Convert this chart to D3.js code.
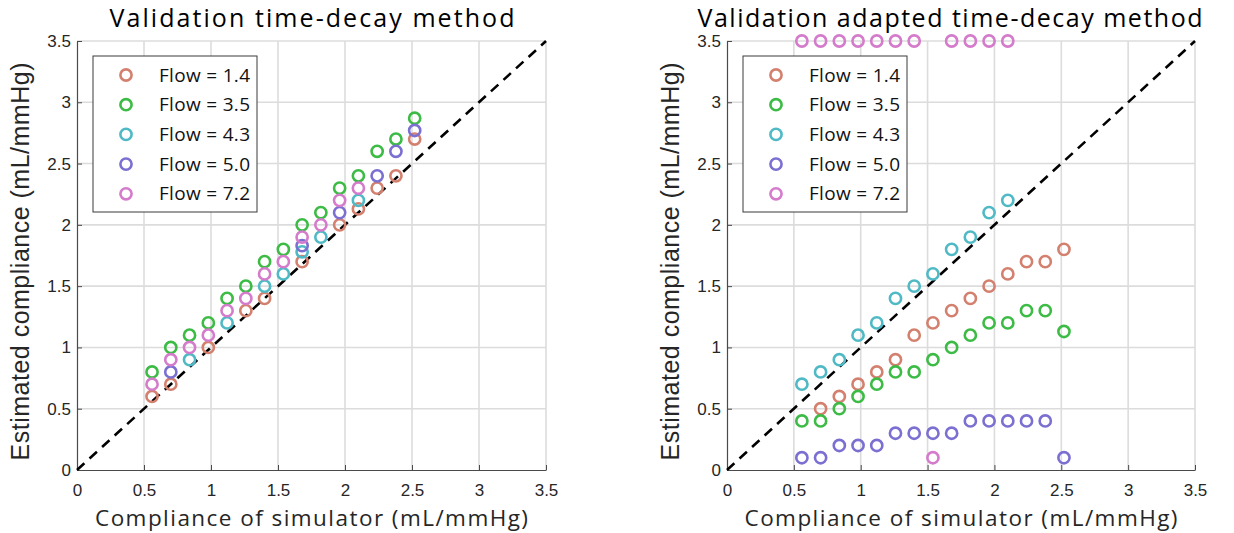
<!DOCTYPE html>
<html>
<head>
<meta charset="utf-8">
<script src="https://cdn.jsdelivr.net/npm/d3@7"></script>
<style>
  html, body { margin: 0; padding: 0; background: #fff; }
  svg { display: block; }
</style>
</head>
<body>
<svg id="chart" width="1234" height="533"></svg>
<script>
// ---------- data ----------
const seriesNames = ["Flow = 1.4", "Flow = 3.5", "Flow = 4.3", "Flow = 5.0", "Flow = 7.2"];
const seriesColors = ["#d4806f", "#3cbb45", "#4fbac5", "#7b70d2", "#d47bcb"];
const tickValues = [0, 0.5, 1, 1.5, 2, 2.5, 3, 3.5];
const tickLabels = ["0", "0.5", "1", "1.5", "2", "2.5", "3", "3.5"];

// Left panel: time-decay method ([x, y] pairs)
const leftFlow14 = [[0.56,0.6],[0.70,0.7],[0.98,1.0],[1.26,1.3],[1.40,1.4],[1.68,1.7],[1.96,2.0],[2.10,2.13],[2.24,2.3],[2.38,2.4],[2.52,2.7]];
const leftFlow35 = [[0.56,0.8],[0.70,1.0],[0.84,1.1],[0.98,1.2],[1.12,1.4],[1.26,1.5],[1.40,1.7],[1.54,1.8],[1.68,2.0],[1.82,2.1],[1.96,2.3],[2.10,2.4],[2.24,2.6],[2.38,2.7],[2.52,2.87]];
const leftFlow43 = [[0.84,0.9],[1.12,1.2],[1.40,1.5],[1.54,1.6],[1.68,1.78],[1.82,1.9],[2.10,2.2]];
const leftFlow50 = [[0.70,0.8],[1.68,1.83],[1.96,2.1],[2.24,2.4],[2.38,2.6],[2.52,2.77]];
const leftFlow72 = [[0.56,0.7],[0.70,0.9],[0.84,1.0],[0.98,1.1],[1.12,1.3],[1.26,1.4],[1.40,1.6],[1.54,1.7],[1.68,1.9],[1.82,2.0],[1.96,2.2],[2.10,2.3]];

// Right panel: adapted time-decay method
const rightFlow14 = [[0.70,0.5],[0.84,0.6],[0.98,0.7],[1.12,0.8],[1.26,0.9],[1.40,1.1],[1.54,1.2],[1.68,1.3],[1.82,1.4],[1.96,1.5],[2.10,1.6],[2.24,1.7],[2.38,1.7],[2.52,1.8]];
const rightFlow35 = [[0.56,0.4],[0.70,0.4],[0.84,0.5],[0.98,0.6],[1.12,0.7],[1.26,0.8],[1.40,0.8],[1.54,0.9],[1.68,1.0],[1.82,1.1],[1.96,1.2],[2.10,1.2],[2.24,1.3],[2.38,1.3],[2.52,1.13]];
const rightFlow43 = [[0.56,0.7],[0.70,0.8],[0.84,0.9],[0.98,1.1],[1.12,1.2],[1.26,1.4],[1.40,1.5],[1.54,1.6],[1.68,1.8],[1.82,1.9],[1.96,2.1],[2.10,2.2]];
const rightFlow50 = [[0.56,0.1],[0.70,0.1],[0.84,0.2],[0.98,0.2],[1.12,0.2],[1.26,0.3],[1.40,0.3],[1.54,0.3],[1.68,0.3],[1.82,0.4],[1.96,0.4],[2.10,0.4],[2.24,0.4],[2.38,0.4],[2.52,0.1]];
const rightFlow72 = [[0.56,3.5],[0.70,3.5],[0.84,3.5],[0.98,3.5],[1.12,3.5],[1.26,3.5],[1.40,3.5],[1.54,0.1],[1.68,3.5],[1.82,3.5],[1.96,3.5],[2.10,3.5]];

const identityLine = [[0,0],[3.5,3.5]];

const panels = [
  { title: "Validation time-decay method", titleLen: 405, titleCx: 312,
    left: 77, right: 546, series: [leftFlow14, leftFlow35, leftFlow43, leftFlow50, leftFlow72] },
  { title: "Validation adapted time-decay method", titleLen: 505, titleCx: 950,
    left: 727, right: 1195, series: [rightFlow14, rightFlow35, rightFlow43, rightFlow50, rightFlow72] }
];

const svg = d3.select("#chart");
const plotTop = 41, plotBottom = 470;

panels.forEach(p => {
  const x = d3.scaleLinear().domain([0, 3.5]).range([p.left, p.right]);
  const y = d3.scaleLinear().domain([0, 3.5]).range([plotBottom, plotTop]);
  const g = svg.append("g");

  // grid
  g.append("g").selectAll("line").data(tickValues.slice(1)).join("line")
    .attr("x1", d => x(d)).attr("x2", d => x(d)).attr("y1", plotBottom).attr("y2", plotTop)
    .attr("stroke", "#dcdcdc").attr("stroke-width", 1.6);
  g.append("g").selectAll("line").data(tickValues.slice(1)).join("line")
    .attr("x1", p.left).attr("x2", p.right).attr("y1", d => y(d)).attr("y2", d => y(d))
    .attr("stroke", "#dcdcdc").attr("stroke-width", 1.6);

  // axes
  const xAxis = d3.axisBottom(x).tickValues(tickValues).tickFormat((d, i) => tickLabels[i]).tickSizeInner(-5).tickSizeOuter(0).tickPadding(14);
  const yAxis = d3.axisLeft(y).tickValues(tickValues).tickFormat((d, i) => tickLabels[i]).tickSizeInner(-5).tickSizeOuter(0).tickPadding(6);
  const gx = g.append("g").attr("transform", `translate(0,${plotBottom})`).call(xAxis);
  const gy = g.append("g").attr("transform", `translate(${p.left},0)`).call(yAxis);
  [gx, gy].forEach(a => {
    a.select(".domain").attr("stroke", "#4a4a4a").attr("stroke-width", 1.2);
    a.selectAll(".tick line").attr("stroke", "#4a4a4a").attr("stroke-width", 1);
    a.selectAll(".tick text").attr("fill", "#262626")
      .style("font-family", "'Liberation Sans', Arial, sans-serif").style("font-size", "17px");
  });

  // identity dashed line
  g.append("path").datum(identityLine)
    .attr("d", d3.line().x(d => x(d[0])).y(d => y(d[1])))
    .attr("fill", "none").attr("stroke", "#000").attr("stroke-width", 2.6)
    .attr("stroke-dasharray", "10,7");

  // markers
  p.series.forEach((s, i) => {
    g.append("g").selectAll("circle").data(s).join("circle")
      .attr("cx", d => x(d[0])).attr("cy", d => y(d[1])).attr("r", 5.6)
      .attr("fill", "none").attr("stroke", seriesColors[i]).attr("stroke-width", 2.6);
  });

  // legend
  const lx = p.left + 16, ly = 56, lw = 164, lh = 156;
  const lg = g.append("g");
  lg.append("rect").attr("x", lx).attr("y", ly).attr("width", lw).attr("height", lh)
    .attr("fill", "#fff").attr("stroke", "#3a3a3a").attr("stroke-width", 1);
  seriesNames.forEach((name, i) => {
    const yy = ly + 19 + i * 29.7;
    lg.append("circle").attr("cx", lx + 33).attr("cy", yy).attr("r", 5.6)
      .attr("fill", "none").attr("stroke", seriesColors[i]).attr("stroke-width", 2.6);
    lg.append("text").attr("x", lx + 66).attr("y", yy).attr("dy", "0.35em")
      .attr("textLength", 91).attr("lengthAdjust", "spacing")
      .attr("fill", "#111").style("font-family", "'Open Sans', sans-serif").style("font-size", "19px")
      .text(name);
  });

  // title
  svg.append("text").attr("x", p.titleCx).attr("y", 27).attr("text-anchor", "middle")
    .attr("textLength", p.titleLen).attr("lengthAdjust", "spacing")
    .style("font-family", "'Open Sans', sans-serif").style("font-size", "25px").attr("fill", "#000")
    .text(p.title);

  // x label
  svg.append("text").attr("x", (p.left + p.right) / 2).attr("y", 526).attr("text-anchor", "middle")
    .attr("textLength", 433).attr("lengthAdjust", "spacing")
    .style("font-family", "'Open Sans', sans-serif").style("font-size", "22.5px").attr("fill", "#262626")
    .text("Compliance of simulator (mL/mmHg)");

  // y label
  svg.append("text").attr("transform", `translate(${p.left - 48},${(plotTop + plotBottom) / 2 + 6}) rotate(-90)`)
    .attr("text-anchor", "middle")
    .attr("textLength", 398).attr("lengthAdjust", "spacing")
    .style("font-family", "'Liberation Sans', Arial, sans-serif").style("font-size", "25px").attr("fill", "#262626")
    .text("Estimated compliance (mL/mmHg)");
});
</script>
</body>
</html>
